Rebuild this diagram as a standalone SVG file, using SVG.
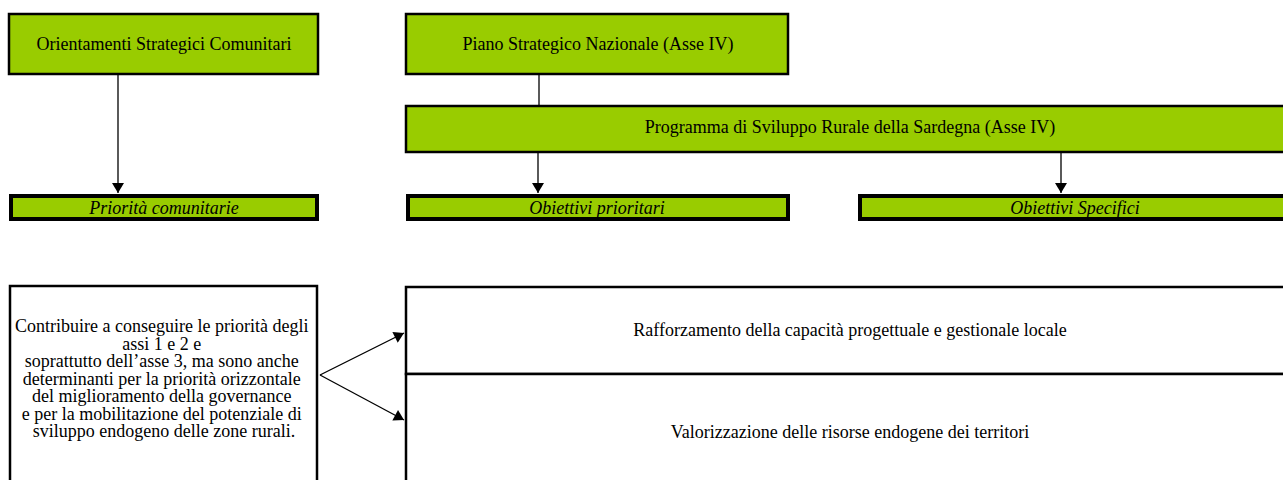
<svg xmlns="http://www.w3.org/2000/svg" width="1283" height="480" viewBox="0 0 1283 480">
<style>
.g{fill:#99CC00;stroke:#000;stroke-width:2.5}
.gt{fill:#99CC00;stroke:#000;stroke-width:4}
.w{fill:#fff;stroke:#000;stroke-width:2.5}
.t{font-family:"Liberation Serif","Times New Roman",serif;font-size:18px;fill:#000;text-anchor:middle}
.i{font-style:italic}
.c{stroke:#000;stroke-width:1.3;fill:none}
</style>
<defs>
<marker id="ah" markerUnits="userSpaceOnUse" markerWidth="12" markerHeight="12" refX="10" refY="6" orient="auto" viewBox="0 0 10 12">
<path d="M0,0 L10,6 L0,12 z" fill="#000"/>
</marker>
</defs>
<rect width="1283" height="480" fill="#fff"/>
<g id="connectors">
<line class="c" x1="118" y1="74" x2="118" y2="193" marker-end="url(#ah)"/>
<line class="c" x1="539" y1="74" x2="539" y2="106" stroke="#333"/>
<line class="c" x1="538" y1="152" x2="538" y2="193" marker-end="url(#ah)"/>
<line class="c" x1="1061" y1="152" x2="1061" y2="193" marker-end="url(#ah)"/>
<line class="c" x1="320" y1="375" x2="404" y2="333" marker-end="url(#ah)"/>
<line class="c" x1="320" y1="375" x2="404" y2="420" marker-end="url(#ah)"/>
</g>
<g id="n-orientamenti">
<rect class="g" x="9" y="14" width="309" height="60"/>
<text class="t" x="164" y="50">Orientamenti Strategici Comunitari</text>
</g>
<g id="n-piano">
<rect class="g" x="406" y="14" width="382" height="60"/>
<text class="t" x="598" y="50">Piano Strategico Nazionale (Asse IV)</text>
</g>
<g id="n-programma">
<rect class="g" x="406" y="106" width="880" height="46"/>
<text class="t" x="850" y="133">Programma di Sviluppo Rurale della Sardegna (Asse IV)</text>
</g>
<g id="n-priorita">
<rect class="gt" x="11" y="196" width="306" height="23"/>
<text class="t i" x="164" y="214">Priorità comunitarie</text>
</g>
<g id="n-obiettivi-prioritari">
<rect class="gt" x="408" y="196" width="380" height="23"/>
<text class="t i" x="597" y="214">Obiettivi prioritari</text>
</g>
<g id="n-obiettivi-specifici">
<rect class="gt" x="860" y="196" width="440" height="23"/>
<text class="t i" x="1075" y="214">Obiettivi Specifici</text>
</g>
<g id="n-contribuire">
<rect class="w" x="10" y="286" width="307" height="210"/>
<text class="t" x="164" y="332">
<tspan x="164" y="332">Contribuire a conseguire le priorità degli</tspan>
<tspan x="164" y="349.5">assi 1 e 2 e</tspan>
<tspan x="164" y="367">soprattutto dell’asse 3, ma sono anche</tspan>
<tspan x="164" y="384.5">determinanti per la priorità orizzontale</tspan>
<tspan x="164" y="402">del miglioramento della governance</tspan>
<tspan x="164" y="419.5">e per la mobilitazione del potenziale di</tspan>
<tspan x="164" y="437">sviluppo endogeno delle zone rurali.</tspan>
</text>
</g>
<g id="n-rafforzamento">
<rect class="w" x="406" y="287" width="890" height="87"/>
<text class="t" x="850" y="336">Rafforzamento della capacità progettuale e gestionale locale</text>
</g>
<g id="n-valorizzazione">
<rect class="w" x="406" y="374" width="890" height="130"/>
<text class="t" x="850" y="438">Valorizzazione delle risorse endogene dei territori</text>
</g>
</svg>
